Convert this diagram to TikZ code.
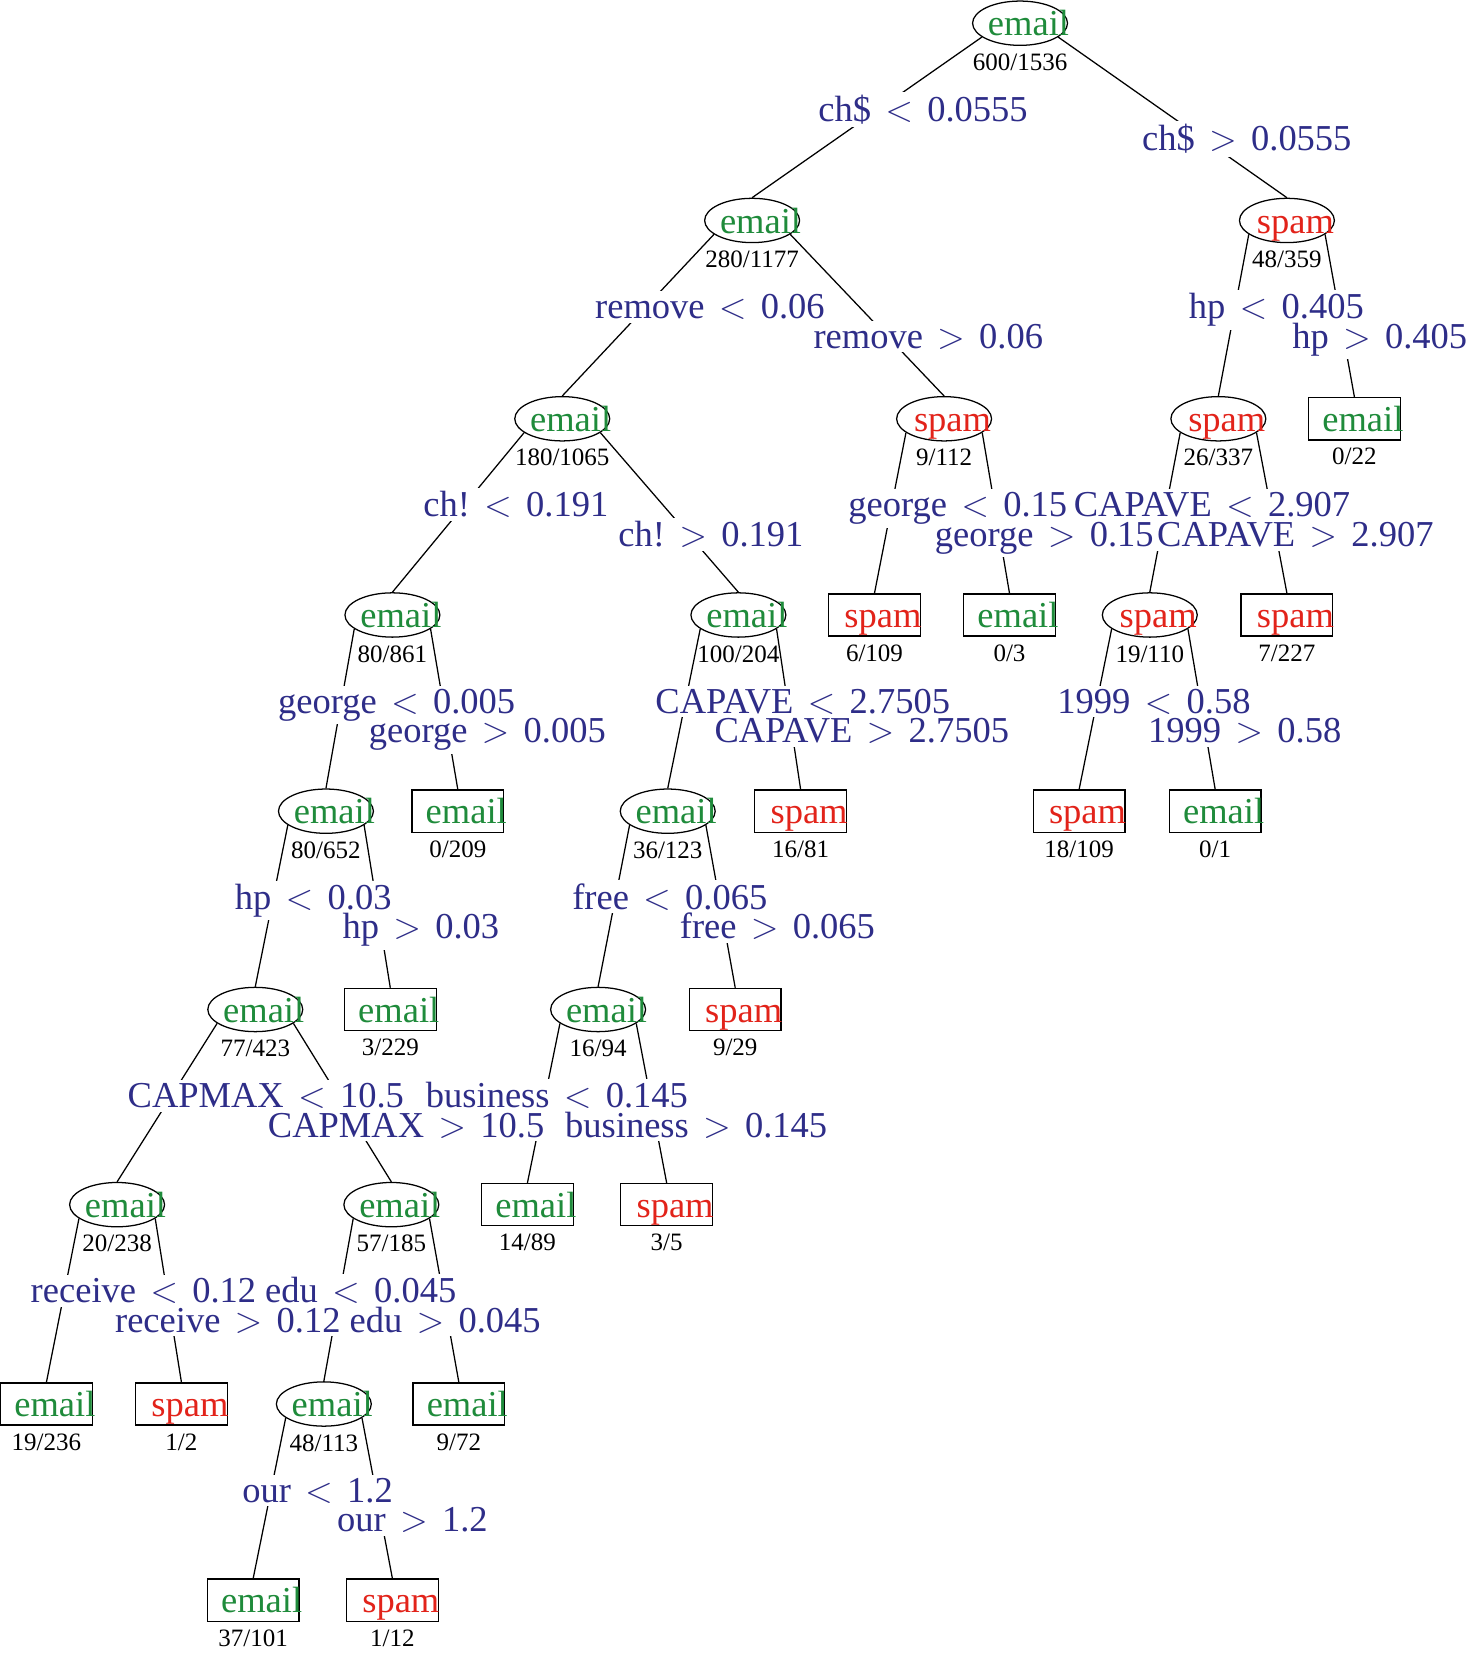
\documentclass[tikz,border=0pt]{standalone}
\usepackage{fontspec}
\setmainfont{Liberation Serif}
\usetikzlibrary{shapes.geometric}

\definecolor{mailgreen}{RGB}{31,139,59}
\definecolor{spamred}{RGB}{226,35,26}
\definecolor{splitblue}{RGB}{46,45,136}

% split sign with wide spacing
\newcommand{\ltsep}{\hspace{0.39em}$<$\hspace{0.39em}}
\newcommand{\gtsep}{\hspace{0.39em}$>$\hspace{0.39em}}
% class names, shifted a little to the right of the node centre
\newcommand{\isemail}{\makebox[0pt]{\hspace*{8pt}\textcolor{mailgreen}{email}}}
\newcommand{\isspam}{\makebox[0pt]{\hspace*{8pt}\textcolor{spamred}{spam}}}

\tikzset{
  bigfont/.style={font=\fontsize{17.3pt}{20pt}\selectfont},
  splitnode/.style={ellipse, draw, line width=0.6pt, minimum width=45pt,
    minimum height=21pt, inner sep=0pt, bigfont, text height=12pt,
    text depth=0pt},
  leafnode/.style={rectangle, draw, line width=0.6pt, minimum width=43.5pt,
    minimum height=20pt, inner sep=0pt, bigfont, text height=12pt,
    text depth=0pt},
  countlabel/.style={font=\fontsize{11.85pt}{14pt}\selectfont, inner sep=0pt,
    yshift=-3.5pt},
  rule/.style={bigfont, text=splitblue, fill=white, inner xsep=0pt,
    inner ysep=1.5pt, anchor=base},
  branchline/.style={line width=0.6pt}
}

\begin{document}
\begin{tikzpicture}[x=0.5pt, y=-0.5pt]

    \useasboundingbox (0,0) rectangle (1395,1568);

    % --- Nodes of the tree (centres, y grows downwards) ---
    \node[splitnode, label={[countlabel]below:600/1536}] (root) at (967,22) {\isemail};

    \node[splitnode, label={[countlabel]below:280/1177}] (A) at (713,209) {\isemail};
    \node[splitnode, label={[countlabel]below:48/359}] (B) at (1220,209) {\isspam};

    \node[splitnode, label={[countlabel]below:180/1065}] (C) at (533,397) {\isemail};
    \node[splitnode, label={[countlabel]below:9/112}] (D) at (895,397) {\isspam};
    \node[splitnode, label={[countlabel]below:26/337}] (E) at (1155,397) {\isspam};
    \node[leafnode, label={[countlabel]below:0/22}] (F) at (1284,397) {\isemail};

    \node[splitnode, label={[countlabel]below:80/861}] (G) at (372,583) {\isemail};
    \node[splitnode, label={[countlabel]below:100/204}] (H) at (700,583) {\isemail};
    \node[leafnode, label={[countlabel]below:6/109}] (I) at (829,583) {\isspam};
    \node[leafnode, label={[countlabel]below:0/3}] (J) at (957,583) {\isemail};
    \node[splitnode, label={[countlabel]below:19/110}] (K) at (1090,583) {\isspam};
    \node[leafnode, label={[countlabel]below:7/227}] (L) at (1220,583) {\isspam};

    \node[splitnode, label={[countlabel]below:80/652}] (M) at (309,769) {\isemail};
    \node[leafnode, label={[countlabel]below:0/209}] (N) at (434,769) {\isemail};
    \node[splitnode, label={[countlabel]below:36/123}] (O) at (633,769) {\isemail};
    \node[leafnode, label={[countlabel]below:16/81}] (P) at (759,769) {\isspam};
    \node[leafnode, label={[countlabel]below:18/109}] (Q) at (1023,769) {\isspam};
    \node[leafnode, label={[countlabel]below:0/1}] (R) at (1152,769) {\isemail};

    \node[splitnode, label={[countlabel]below:77/423}] (S) at (242,957) {\isemail};
    \node[leafnode, label={[countlabel]below:3/229}] (T) at (370,957) {\isemail};
    \node[splitnode, label={[countlabel]below:16/94}] (U) at (567,957) {\isemail};
    \node[leafnode, label={[countlabel]below:9/29}] (V) at (697,957) {\isspam};

    \node[splitnode, label={[countlabel]below:20/238}] (W) at (111,1142) {\isemail};
    \node[splitnode, label={[countlabel]below:57/185}] (X) at (371,1142) {\isemail};
    \node[leafnode, label={[countlabel]below:14/89}] (Y) at (500,1142) {\isemail};
    \node[leafnode, label={[countlabel]below:3/5}] (Z) at (632,1142) {\isspam};

    \node[leafnode, label={[countlabel]below:19/236}] (a) at (44,1331) {\isemail};
    \node[leafnode, label={[countlabel]below:1/2}] (b) at (172,1331) {\isspam};
    \node[splitnode, label={[countlabel]below:48/113}] (c) at (307,1331) {\isemail};
    \node[leafnode, label={[countlabel]below:9/72}] (d) at (435,1331) {\isemail};

    \node[leafnode, label={[countlabel]below:37/101}] (e) at (240,1517) {\isemail};
    \node[leafnode, label={[countlabel]below:1/12}] (f) at (372,1517) {\isspam};

    % --- Branches (left child from 200, right child from 340) ---
    \draw[branchline] (root.200) -- (A.north);
    \draw[branchline] (root.340) -- (B.north);
    \draw[branchline] (A.200) -- (C.north);
    \draw[branchline] (A.340) -- (D.north);
    \draw[branchline] (B.200) -- (E.north);
    \draw[branchline] (B.340) -- (F.north);
    \draw[branchline] (C.200) -- (G.north);
    \draw[branchline] (C.340) -- (H.north);
    \draw[branchline] (D.200) -- (I.north);
    \draw[branchline] (D.340) -- (J.north);
    \draw[branchline] (E.200) -- (K.north);
    \draw[branchline] (E.340) -- (L.north);
    \draw[branchline] (G.200) -- (M.north);
    \draw[branchline] (G.340) -- (N.north);
    \draw[branchline] (H.200) -- (O.north);
    \draw[branchline] (H.340) -- (P.north);
    \draw[branchline] (K.200) -- (Q.north);
    \draw[branchline] (K.340) -- (R.north);
    \draw[branchline] (M.200) -- (S.north);
    \draw[branchline] (M.340) -- (T.north);
    \draw[branchline] (O.200) -- (U.north);
    \draw[branchline] (O.340) -- (V.north);
    \draw[branchline] (S.200) -- (W.north);
    \draw[branchline] (S.340) -- (X.north);
    \draw[branchline] (U.200) -- (Y.north);
    \draw[branchline] (U.340) -- (Z.north);
    \draw[branchline] (W.200) -- (a.north);
    \draw[branchline] (W.340) -- (b.north);
    \draw[branchline] (X.200) -- (c.north);
    \draw[branchline] (X.340) -- (d.north);
    \draw[branchline] (c.200) -- (e.north);
    \draw[branchline] (c.340) -- (f.north);

    % --- Split rules (baselines), drawn over the branches ---
    \node[rule] (rootL) at (875,115) {ch\$\ltsep 0.0555};
    \node[rule] (rootR) at (1182,143) {ch\$\gtsep 0.0555};

    \node[rule] (AL) at (673,302) {remove\ltsep 0.06};
    \node[rule] (AR) at (880,330) {remove\gtsep 0.06};
    \node[rule] (BL) at (1210,302) {hp\ltsep 0.405};
    \node[rule] (BR) at (1308,330) {hp\gtsep 0.405};

    \node[rule] (CL) at (489,490) {ch!\ltsep 0.191};
    \node[rule] (CR) at (674,518) {ch!\gtsep 0.191};
    \node[rule] (DL) at (908,490) {george\ltsep 0.15};
    \node[rule] (EL) at (1149,490) {CAPAVE\ltsep 2.907};
    \node[rule] (DR) at (990,518) {george\gtsep 0.15};
    \node[rule] (ER) at (1228,518) {CAPAVE\gtsep 2.907};

    \node[rule] (GL) at (376,676) {george\ltsep 0.005};
    \node[rule] (GR) at (462,704) {george\gtsep 0.005};
    \node[rule] (HL) at (761,676) {CAPAVE\ltsep 2.7505};
    \node[rule] (HR) at (817,704) {CAPAVE\gtsep 2.7505};
    \node[rule] (KL) at (1094,676) {1999\ltsep 0.58};
    \node[rule] (KR) at (1180,704) {1999\gtsep 0.58};

    \node[rule] (ML) at (297,862) {hp\ltsep 0.03};
    \node[rule] (MR) at (399,890) {hp\gtsep 0.03};
    \node[rule] (OL) at (635,862) {free\ltsep 0.065};
    \node[rule] (OR) at (737,890) {free\gtsep 0.065};

    \node[rule] (SL) at (252,1050) {CAPMAX\ltsep 10.5};
    \node[rule] (UL) at (528,1050) {business\ltsep 0.145};
    \node[rule] (SR) at (385,1078) {CAPMAX\gtsep 10.5};
    \node[rule] (UR) at (660,1078) {business\gtsep 0.145};

    \node[rule] (WL) at (136,1235) {receive\ltsep 0.12};
    \node[rule] (XL) at (342,1235) {edu\ltsep 0.045};
    \node[rule] (WR) at (216,1263) {receive\gtsep 0.12};
    \node[rule] (XR) at (422,1263) {edu\gtsep 0.045};

    \node[rule] (cL) at (301,1424) {our\ltsep 1.2};
    \node[rule] (cR) at (391,1452) {our\gtsep 1.2};

\end{tikzpicture}
\end{document}
